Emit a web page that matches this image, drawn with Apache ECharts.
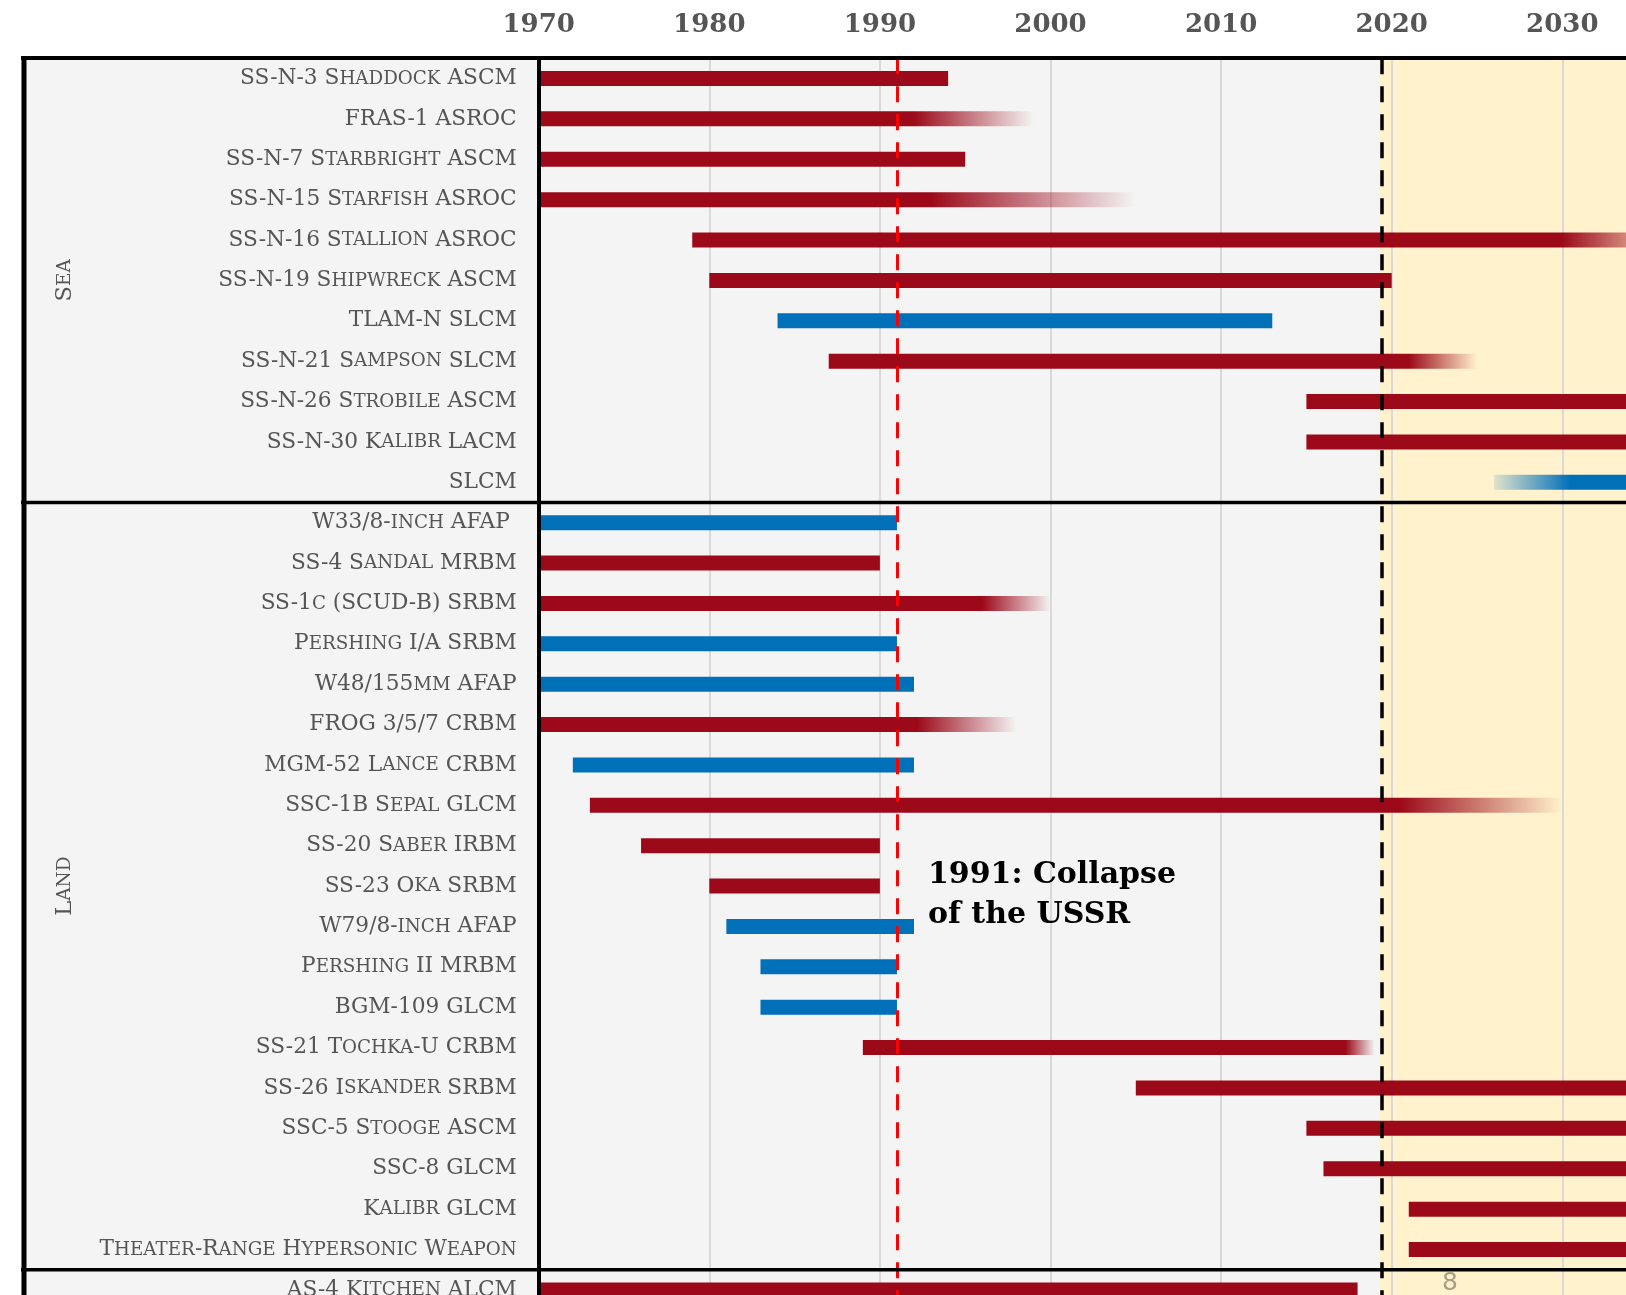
<!DOCTYPE html>
<html>
<head>
<meta charset="utf-8">
<script src="https://cdn.jsdelivr.net/npm/echarts@6/dist/echarts.min.js"></script>
<style>
html,body{margin:0;padding:0;overflow:hidden;background:#fff;width:1626px;height:1295px}
#c{width:2000px;height:1400px}
</style>
</head>
<body>
<div id="c"></div>
<script>
// ---------------- DATA ----------------
const categories = [
  'SS-N-3 Shaddock ASCM', 'FRAS-1 ASROC', 'SS-N-7 Starbright ASCM', 'SS-N-15 Starfish ASROC',
  'SS-N-16 Stallion ASROC', 'SS-N-19 Shipwreck ASCM', 'TLAM-N SLCM', 'SS-N-21 Sampson SLCM',
  'SS-N-26 Strobile ASCM', 'SS-N-30 Kalibr LACM', 'SLCM',
  'W33/8-inch AFAP ', 'SS-4 Sandal MRBM', 'SS-1c (SCUD-B) SRBM', 'Pershing I/A SRBM',
  'W48/155mm AFAP', 'FROG 3/5/7 CRBM', 'MGM-52 Lance CRBM', 'SSC-1B Sepal GLCM',
  'SS-20 Saber IRBM', 'SS-23 Oka SRBM', 'W79/8-inch AFAP', 'Pershing II MRBM', 'BGM-109 GLCM',
  'SS-21 Tochka-U CRBM', 'SS-26 Iskander SRBM', 'SSC-5 Stooge ASCM', 'SSC-8 GLCM',
  'Kalibr GLCM', 'Theater-Range Hypersonic Weapon',
  'AS-4 Kitchen ALCM'
];
// year the bar begins (fade-in start if any)
const barStart = [
  1970, 1970, 1970, 1970, 1979, 1980, 1984, 1987, 2015, 2015, 2026,
  1970, 1970, 1970, 1970, 1970, 1970, 1972, 1973, 1976, 1980, 1981, 1983, 1983,
  1989, 2005, 2015, 2016, 2021, 2021,
  1970
];
// year the bar becomes solid
const solidStart = [
  1970, 1970, 1970, 1970, 1979, 1980, 1984, 1987, 2015, 2015, 2030.5,
  1970, 1970, 1970, 1970, 1970, 1970, 1972, 1973, 1976, 1980, 1981, 1983, 1983,
  1989, 2005, 2015, 2016, 2021, 2021,
  1970
];
// year the solid part ends
const solidEnd = [
  1994, 1992, 1995, 1993, 2030, 2020, 2013, 2021, 2045, 2045, 2045,
  1991, 1990, 1996, 1991, 1992, 1992.2, 1992, 2020.5, 1990, 1990, 1992, 1991, 1991,
  2017.3, 2045, 2045, 2045, 2045, 2045,
  2018
];
// year the bar (incl. fade-out) ends
const barEnd = [
  1994, 1999, 1995, 2005, 2037, 2020, 2013, 2025, 2045, 2045, 2045,
  1991, 1990, 2000, 1991, 1992, 1998, 1992, 2030, 1990, 1990, 1992, 1991, 1991,
  2019, 2045, 2045, 2045, 2045, 2045,
  2018
];
// 0 = Soviet / Russian system, 1 = US system
const nation = [
  0, 0, 0, 0, 0, 0, 1, 0, 0, 0, 1,
  1, 0, 0, 1, 1, 0, 1, 0, 0, 0, 1, 1, 1,
  0, 0, 0, 0, 0, 0,
  0
];
const groupNames = ['Sea', 'Land'];
const groupFirstRow = [0, 11];
const groupEndRow = [11, 30];
const dividerRows = [11, 30];
const xMin = 1970, xMax = 2050, xStep = 10;
const collapseYear = 1991;
const presentYear = 2019.4;
const futureFrom = 2019.3;
const annotationText = '1991: Collapse\nof the USSR';
const pageNumber = '8';

// ---------------- STYLE / LAYOUT ----------------
const RED = [156, 10, 26], BLUE = [0, 112, 185];
const SERIF = '"DejaVu Serif", serif';
const LEFT = 538.7, TOP = 58.3, ROW = 40.38, PXYR = 17.06;
const GRID_W = (xMax - xMin) * PXYR, GRID_H = categories.length * ROW;
const BAR_H = 15;
const CAP = 21.7, SC = 18.3, LABEL_COL = '#555555';

const rgba = (c, a) => `rgba(${c[0]},${c[1]},${c[2]},${a})`;
// emulate small caps with rich text: lowercase runs become smaller capitals
const smallCaps = str => str.replace(/[a-z]+|[^a-z]+/g,
  m => /[a-z]/.test(m[0]) ? '{sc|' + m.toUpperCase() + '}' : '{n|' + m + '}');
const richSC = (cap, sc) => ({
  n: { fontFamily: SERIF, fontSize: cap, color: LABEL_COL, lineHeight: cap + 4 },
  sc: { fontFamily: SERIF, fontSize: sc, color: LABEL_COL, lineHeight: cap + 4, padding: [1.2, 0, 0, 0] }
});
const richSCGraphic = (cap, sc) => ({
  n: { fontFamily: SERIF, fontSize: cap, fill: LABEL_COL, lineHeight: cap + 4 },
  sc: { fontFamily: SERIF, fontSize: sc, fill: LABEL_COL, lineHeight: cap + 4, padding: [1.2, 0, 0, 0] }
});

const seriesData = categories.map((n, i) => [i, barStart[i], solidStart[i], solidEnd[i], barEnd[i], nation[i]]);

function renderItem(params, api) {
  const row = api.value(0);
  const s = api.value(1), ss = api.value(2), se = api.value(3), e = api.value(4);
  const col = api.value(5) === 1 ? BLUE : RED;
  const a = api.coord([s, row]), b = api.coord([e, row]);
  const span = e - s;
  const f = v => Math.max(0, Math.min(1, (v - s) / span));
  const stops = [];
  if (ss > s) {
    stops.push({ offset: 0, color: rgba(col, 0.12) });
    stops.push({ offset: f(ss), color: rgba(col, 1) });
  } else {
    stops.push({ offset: 0, color: rgba(col, 1) });
  }
  if (se < e) {
    stops.push({ offset: f(se), color: rgba(col, 1) });
    stops.push({ offset: 1, color: rgba(col, 0) });
  } else {
    stops.push({ offset: 1, color: rgba(col, 1) });
  }
  return {
    type: 'rect',
    shape: { x: a[0], y: a[1] - BAR_H / 2, width: b[0] - a[0], height: BAR_H },
    style: { fill: new echarts.graphic.LinearGradient(0, 0, 1, 0, stops) }
  };
}

const chart = echarts.init(document.getElementById('c'), null, { renderer: 'canvas' });
chart.setOption({
  backgroundColor: '#ffffff',
  animation: false,
  grid: { left: LEFT, top: TOP, width: GRID_W, height: GRID_H, containLabel: false, outerBoundsMode: 'none' },
  xAxis: {
    type: 'value', position: 'top', min: xMin, max: xMax, interval: xStep,
    axisLine: { show: false }, axisTick: { show: false },
    splitLine: { show: true, lineStyle: { color: '#d9d9d9', width: 2 } },
    axisLabel: {
      fontFamily: SERIF, fontWeight: 'bold', fontSize: 26, color: '#555555', margin: 20,
      formatter: v => String(v)
    }
  },
  yAxis: {
    type: 'category', data: categories, inverse: true, z: 10,
    axisLine: { show: true, lineStyle: { color: '#000', width: 4 } },
    axisTick: { show: false }, splitLine: { show: false },
    axisLabel: {
      margin: 22, formatter: v => smallCaps(v), rich: richSC(CAP, SC)
    }
  },
  series: [{
    type: 'custom',
    renderItem: renderItem,
    clip: true,
    dimensions: ['row', 'start', 'solidStart', 'solidEnd', 'end', 'nation'],
    encode: { x: [1, 4], y: 0 },
    data: seriesData,
    z: 2,
    markLine: {
      silent: true, symbol: ['none', 'none'], label: { show: false },
      lineStyle: { width: 3, type: [16, 12] },
      data: [
        { xAxis: collapseYear, lineStyle: { color: '#ff0000', width: 3, type: [16, 12] } },
        { xAxis: presentYear, lineStyle: { color: '#000000', width: 3.5, type: [16, 12] } }
      ]
    }
  }]
});

const px = y => chart.convertToPixel({ xAxisIndex: 0 }, y);
const rowEdge = k => TOP + k * ROW;
const gTop = TOP;
const elements = [];
elements.push({ type: 'rect', z: -10, silent: true,
  shape: { x: 21, y: 56, width: 2000, height: 1400 }, style: { fill: '#f4f4f4' } });
elements.push({ type: 'rect', z: -9, silent: true,
  shape: { x: px(futureFrom), y: gTop, width: px(xMax) - px(futureFrom), height: GRID_H },
  style: { fill: '#fff2cc' } });
// box borders
elements.push({ type: 'line', z: 30, silent: true, shape: { x1: 21, y1: 58, x2: 2000, y2: 58 },
  style: { stroke: '#000', lineWidth: 4 } });
elements.push({ type: 'line', z: 30, silent: true, shape: { x1: 24, y1: 56, x2: 24, y2: 1400 },
  style: { stroke: '#000', lineWidth: 5 } });
dividerRows.forEach(k => {
  elements.push({ type: 'line', z: 30, silent: true,
    shape: { x1: 21, y1: rowEdge(k), x2: 2000, y2: rowEdge(k) },
    style: { stroke: '#000', lineWidth: 3.5 } });
});
groupNames.forEach((g, i) => {
  const cy = (rowEdge(groupFirstRow[i]) + rowEdge(groupEndRow[i])) / 2;
  elements.push({ type: 'text', z: 30, silent: true, x: 65, y: cy, rotation: Math.PI / 2,
    style: { text: smallCaps(g), rich: richSCGraphic(22.5, 18.5), fill: LABEL_COL,
      align: 'center', verticalAlign: 'middle' } });
});
elements.push({ type: 'text', z: 30, silent: true, x: px(collapseYear) + 31, y: 855,
  style: { text: annotationText, font: 'bold 30px "DejaVu Serif", serif', fill: '#000',
    lineHeight: 40, align: 'left', verticalAlign: 'top' } });
elements.push({ type: 'text', z: 30, silent: true, x: 1450, y: 1271,
  style: { text: pageNumber, font: '25px "DejaVu Sans", sans-serif', fill: '#a89f84',
    align: 'center', verticalAlign: 'top' } });
chart.setOption({ graphic: { elements: elements } });
</script>
</body>
</html>
